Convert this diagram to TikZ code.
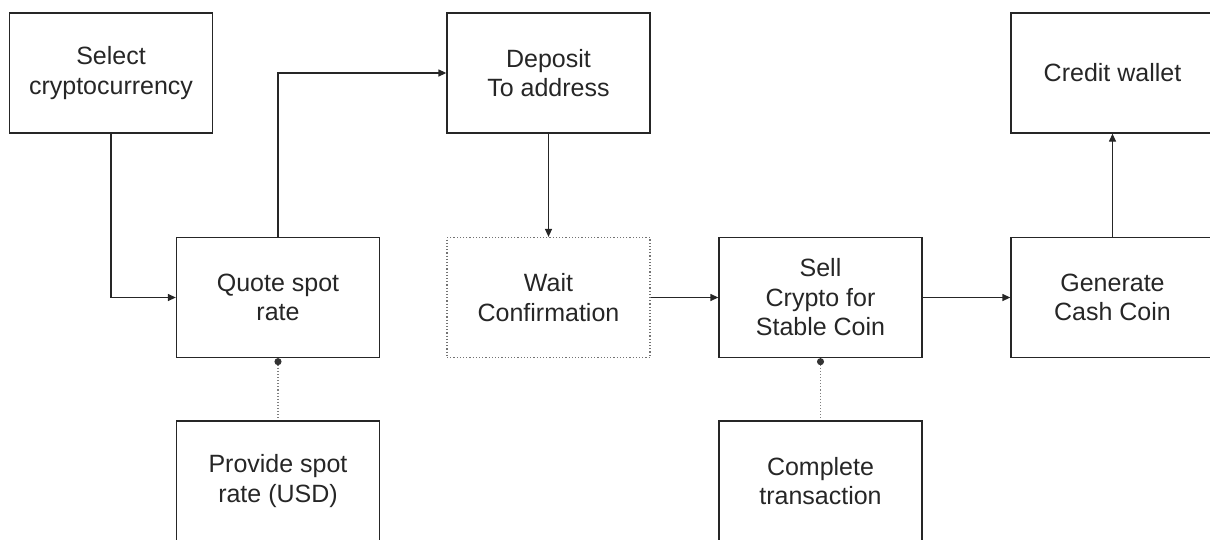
\documentclass[tikz,border=0pt]{standalone}
\usepackage{fontspec}
\setmainfont{Liberation Sans}
\usetikzlibrary{arrows.meta}
\begin{document}
\begin{tikzpicture}[x=1pt,y=-1pt,
  box/.style={draw=black!85,line width=1.3pt,minimum width=203pt,minimum height=120pt,
    align=center,inner sep=0pt,text=black!85,
    font=\fontsize{25pt}{29.5pt}\selectfont},
  dotbox/.style={box,draw=black!55,line width=1.2pt,dotted},
  flow/.style={draw=black!85,line width=1.3pt,-{Triangle[length=8pt,width=7pt]}},
  link/.style={draw=black!50,line width=1.1pt,dotted,{Circle[length=7pt,fill=black!80,color=black!80]}-}]
\useasboundingbox (0,0) rectangle (1210,539);
\node[box] (sel) at (111,73) {Select\\cryptocurrency};
\node[box] (quote) at (278,297.5) {Quote spot\\rate};
\node[box] (prov) at (278,481) {Provide spot\\rate (USD)};
\node[box] (dep) at (548.5,73) {Deposit\\To address};
\node[dotbox] (wait) at (548.5,297.5) {Wait\\Confirmation};
\node[box] (sell) at (820.5,297.5) {Sell\\Crypto for\\Stable Coin};
\node[box] (comp) at (820.5,481) {Complete\\transaction};
\node[box] (gen) at (1112.5,297.5) {Generate\\Cash Coin};
\node[box] (cred) at (1112.5,73) {Credit wallet};
\draw[flow] (sel.south) |- (quote.west);
\draw[flow] (quote.north) |- (dep.west);
\draw[flow] (dep.south) -- (wait.north);
\draw[flow] (wait.east) -- (sell.west);
\draw[flow] (sell.east) -- (gen.west);
\draw[flow] (gen.north) -- (cred.south);
\draw[link] (quote.south) -- (prov.north);
\draw[link] (sell.south) -- (comp.north);
\end{tikzpicture}
\end{document}
